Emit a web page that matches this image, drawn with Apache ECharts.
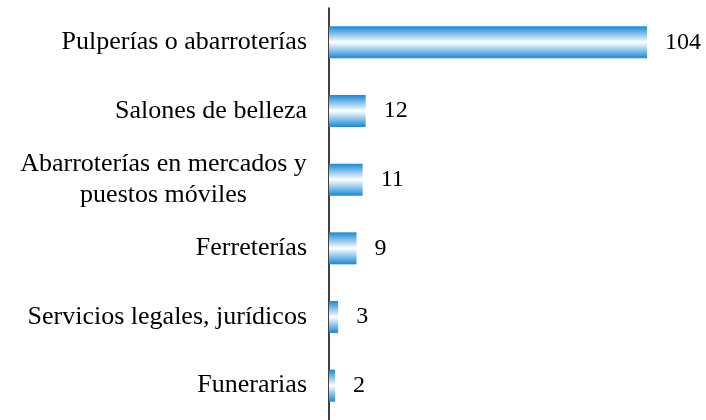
<!DOCTYPE html>
<html>
<head>
<meta charset="utf-8">
<script src="https://cdn.jsdelivr.net/npm/echarts@6/dist/echarts.min.js"></script>
<style>
  html, body { margin: 0; padding: 0; background: #fff; }
  #chart { width: 706px; height: 420px; }
</style>
</head>
<body>
<div id="chart"></div>
<script>
const categories = [
  'Pulperías o abarroterías',
  'Salones de belleza',
  'Abarroterías en mercados y\npuestos móviles',
  'Ferreterías',
  'Servicios legales, jurídicos',
  'Funerarias'
];
const values = [104, 12, 11, 9, 3, 2];

const chart = echarts.init(document.getElementById('chart'));

const labelFont = { fontFamily: 'Liberation Serif', fontSize: 26, color: '#000' };

// degradado azul-blanco-azul como en la figura
const barFill = new echarts.graphic.LinearGradient(0, 0, 0, 1, [
  { offset: 0, color: '#1888d6' },
  { offset: 0.5, color: '#ffffff' },
  { offset: 1, color: '#1888d6' }
]);

chart.setOption({
  animation: false,
  grid: { left: 329, right: 10, top: 8, bottom: 0 },
  xAxis: {
    type: 'value',
    min: 0,
    max: 120,
    show: false
  },
  yAxis: {
    type: 'category',
    data: categories,
    inverse: true,
    axisLine: { show: true, lineStyle: { color: '#000', width: 1.5 } },
    axisTick: { show: false },
    axisLabel: {
      margin: 22,
      ...labelFont,
      lineHeight: 31,
      align: 'right',
      // las etiquetas de dos líneas van centradas entre sí
      formatter: function (v) {
        if (v.indexOf('\n') < 0) return v;
        return v.split('\n').map(s => '{c|' + s + '}').join('\n');
      },
      rich: {
        c: { ...labelFont, lineHeight: 31, width: 287, align: 'center' }
      }
    }
  },
  series: [{
    type: 'bar',
    data: values,
    barWidth: 32,
    itemStyle: { color: barFill },
    label: {
      show: true,
      position: 'right',
      distance: 18,
      color: '#000',
      fontFamily: 'Liberation Serif',
      fontSize: 24
    }
  }]
});
</script>
</body>
</html>
